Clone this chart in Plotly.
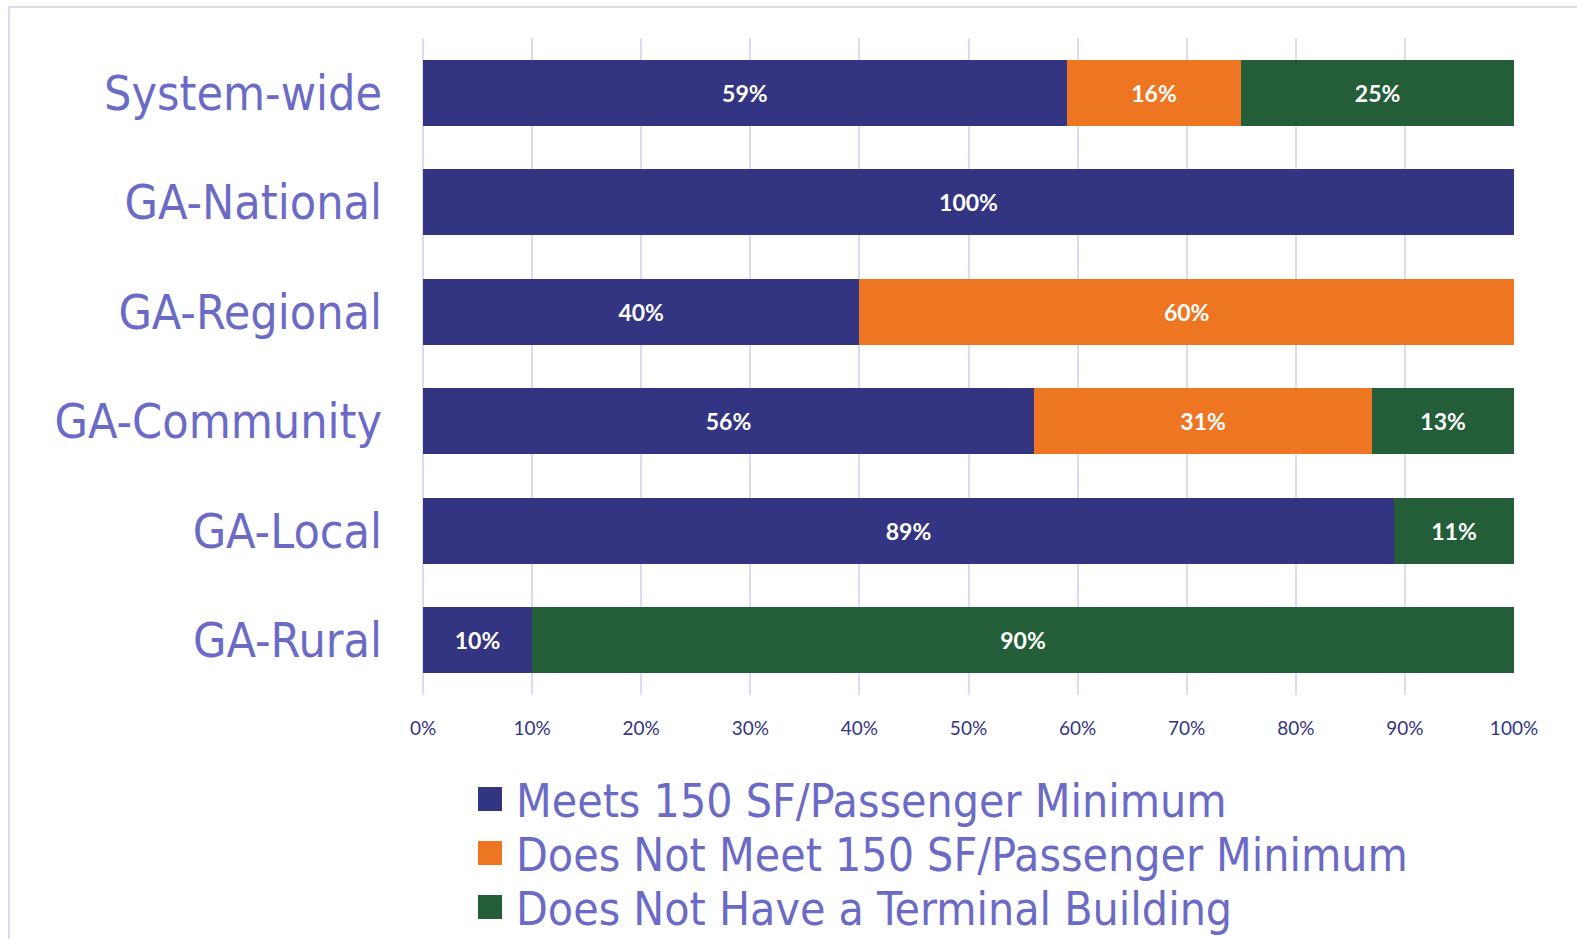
import plotly.graph_objects as go

categories = ["System-wide", "GA-National", "GA-Regional", "GA-Community", "GA-Local", "GA-Rural"]
series_names = [
    "Meets 150 SF/Passenger Minimum",
    "Does Not Meet 150 SF/Passenger Minimum",
    "Does Not Have a Terminal Building",
]
meets = [59, 100, 40, 56, 89, 10]
not_meet = [16, 0, 60, 31, 0, 0]
no_terminal = [25, 0, 0, 13, 11, 90]
x_ticks = [0, 10, 20, 30, 40, 50, 60, 70, 80, 90, 100]
x_tick_labels = [f"{t}%" for t in x_ticks]

colors = ["#343582", "#EE7622", "#235E39"]
label_color = "#6B6BC6"
tick_color = "#343582"
grid_color = "#DCDCF0"

W, H = 1577, 939
L, R, T, B = 423, 63, 38, 244
PW, PH = W - L - R, H - T - B

def px_x(px):
    return (px - L) / PW

def px_y(py):
    return (H - B - py) / PH

fig = go.Figure()
for name, vals, col in zip(series_names, [meets, not_meet, no_terminal], colors):
    fig.add_trace(go.Bar(
        y=categories,
        x=vals,
        name=name,
        orientation="h",
        marker=dict(color=col, line=dict(width=0)),
        text=[f"{v}%" if v else "" for v in vals],
        textposition="inside",
        insidetextanchor="middle",
        textangle=0,
        constraintext="none",
        textfont=dict(family="Lato, Open Sans, sans-serif", size=23, color="white", weight="bold"),
        hoverinfo="skip",
        showlegend=False,
    ))

shapes = []
annotations = []
# outer border
shapes.append(dict(type="rect", xref="paper", yref="paper",
                   x0=px_x(9), y0=px_y(7), x1=px_x(W + 20), y1=px_y(H + 20),
                   line=dict(color=grid_color, width=2), fillcolor="rgba(0,0,0,0)", layer="below"))

legend_centers = [799, 853, 907]
for name, col, cy in zip(series_names, colors, legend_centers):
    shapes.append(dict(type="rect", xref="paper", yref="paper",
                       x0=px_x(478), x1=px_x(502), y0=px_y(cy - 12), y1=px_y(cy + 12),
                       line=dict(width=0), fillcolor=col))
    annotations.append(dict(text=name, xref="paper", yref="paper",
                            x=px_x(514), y=px_y(cy + 2), xanchor="left", yanchor="middle",
                            showarrow=False,
                            font=dict(family="DejaVu Sans Condensed, Lato, sans-serif", size=46, color=label_color)))

fig.update_layout(
    width=W, height=H,
    barmode="stack",
    bargap=0.4,
    plot_bgcolor="white",
    paper_bgcolor="white",
    margin=dict(l=L, r=R, t=T, b=B, autoexpand=False),
    shapes=shapes,
    annotations=annotations,
    showlegend=False,
    xaxis=dict(
        range=[0, 100],
        tickvals=x_ticks,
        ticktext=x_tick_labels,
        showgrid=True,
        gridcolor=grid_color,
        gridwidth=2,
        zeroline=True,
        zerolinecolor=grid_color,
        zerolinewidth=2,
        showline=False,
        ticks="",
        ticklabelstandoff=20,
        tickfont=dict(family="Lato, Open Sans, sans-serif", size=19, color=tick_color),
        fixedrange=True,
    ),
    yaxis=dict(
        categoryorder="array",
        categoryarray=categories[::-1],
        showgrid=False,
        zeroline=False,
        showline=False,
        ticks="",
        ticklabelstandoff=40,
        tickfont=dict(family="DejaVu Sans Condensed, Lato, sans-serif", size=48, color=label_color),
        fixedrange=True,
    ),
)

fig.write_html("out.html", config={"displayModeBar": False})
